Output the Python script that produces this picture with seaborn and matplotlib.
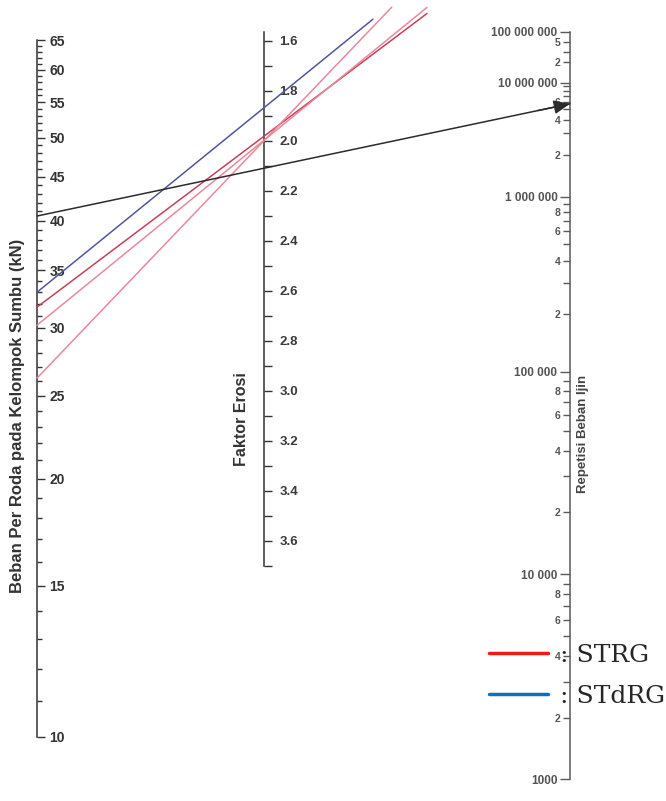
import numpy as np
import pandas as pd
import matplotlib
matplotlib.use('Agg')
import matplotlib.pyplot as plt
from matplotlib.ticker import FixedLocator, FixedFormatter, NullFormatter, FuncFormatter
from matplotlib.lines import Line2D
import seaborn as sns

# - data - #
beban_ticks = [10, 15, 20, 25, 30, 35, 40, 45, 50, 55, 60, 65]
beban_minor = list(range(10, 66))

erosi_ticks = [1.6, 1.8, 2.0, 2.2, 2.4, 2.6, 2.8, 3.0, 3.2, 3.4, 3.6]
erosi_minor = [1.7, 1.9, 2.1, 2.3, 2.5, 2.7, 2.9, 3.1, 3.3, 3.5, 3.7]

rep_major = [1e3, 1e4, 1e5, 1e6, 1e7, 1e8]
rep_major_labels = ['1000', '10 000', '100 000', '1 000 000', '10 000 000', '100 000 000']
rep_minor = [m * 10.0 ** k for k in (3, 4, 5, 6) for m in range(2, 10)] + [2e7, 3e7, 5e7]
rep_minor_labelled = [2e3, 4e3, 6e3, 8e3, 2e4, 4e4, 6e4, 8e4,
                      2e5, 4e5, 6e5, 8e5, 2e6, 4e6, 6e6, 2e7, 5e7]

# nomogram lines: beban (kN) on left axis, faktor erosi on middle axis
garis_nama = ['STdRG', 'STRG a', 'STRG b', 'STRG c', 'contoh']
garis_beban = [33.0, 31.7, 30.2, 26.2, 40.5]
garis_erosi = [1.868, 1.982, 1.998, 2.0, 2.11]
garis_ext = [0.48, 0.718, 0.718, 0.563, None]   # None -> until repetition axis
garis_warna = ['#51569e', '#c9405a', '#e8899b', '#e8899b', '#2b2b2b']

legend_labels = [': STRG', ': STdRG']
legend_colors = ['#f01818', '#0a70c0']

# erosion fatigue relation (PCA), used for the repetition scale
def rep_fwd(n):
    with np.errstate(divide='ignore', invalid='ignore'):
        u = np.log10(np.asarray(n, dtype=float))
        p = 8.5 + np.clip((14.524 - u) / 6.777, 0, None) ** (1 / 0.103)
        return -np.log10(p)

def rep_inv(s):
    with np.errstate(divide='ignore', invalid='ignore', over='ignore'):
        p = 10 ** (-np.asarray(s, dtype=float)) - 8.5
        u = 14.524 - 6.777 * np.clip(p, 0, None) ** 0.103
        return 10 ** u

sns.set_theme(style='white')
plt.rcParams['font.family'] = ['Liberation Sans', 'DejaVu Sans']
plt.rcParams['font.weight'] = 'bold'

W, H = 666, 801
fig = plt.figure(figsize=(W / 100, H / 100), dpi=100)

def scale_axis(x_px, top_px, bottom_px, side):
    ax = fig.add_axes([x_px / W, 1 - bottom_px / H, 1 / W, (bottom_px - top_px) / H])
    for s in ax.spines.values():
        s.set_visible(False)
    ax.spines[side].set_visible(True)
    ax.spines[side].set_linewidth(1.1)
    ax.set_facecolor('none')
    ax.set_xlim(0, 1)
    ax.tick_params(axis='x', bottom=False, labelbottom=False)
    r = side == 'right'
    ax.tick_params(axis='y', which='both', direction='out', left=not r, right=r,
                   labelleft=not r, labelright=r, width=1.0)
    return ax

# left: beban per roda
ax_l = scale_axis(36, 40, 736.5, 'right')
ax_l.set_yscale('log')
ax_l.set_ylim(10, 65)
ax_l.yaxis.set_major_locator(FixedLocator(beban_ticks))
ax_l.yaxis.set_major_formatter(FixedFormatter([str(v) for v in beban_ticks]))
ax_l.yaxis.set_minor_locator(FixedLocator(beban_minor))
ax_l.yaxis.set_minor_formatter(NullFormatter())
ax_l.spines['right'].set_color('#333333')
ax_l.tick_params(axis='y', which='major', length=6, pad=3, labelsize=10, color='#333333', labelcolor='#333333')
ax_l.tick_params(axis='y', which='minor', length=3.5, color='#333333')
ax_l.yaxis.set_label_position('left')
ax_l.set_ylabel('Beban Per Roda pada Kelompok Sumbu (kN)', fontsize=12, fontweight='bold',
                color='#333333', va='center')
ax_l.yaxis.set_label_coords(18 / W, 1 - 415.5 / H, transform=fig.transFigure)

# middle: faktor erosi
ax_m = scale_axis(263, 32, 565.7, 'right')
ax_m.set_ylim(3.7, 1.565)
ax_m.yaxis.set_major_locator(FixedLocator(erosi_ticks))
ax_m.yaxis.set_major_formatter(FuncFormatter(lambda v, p: f'{v:.1f}'))
ax_m.yaxis.set_minor_locator(FixedLocator(erosi_minor))
ax_m.spines['right'].set_color('#333333')
ax_m.tick_params(axis='y', which='both', length=6, pad=5, labelsize=9.5, color='#333333', labelcolor='#3a3a3a')
ax_m.yaxis.set_label_position('left')
ax_m.set_ylabel('Faktor Erosi', fontsize=11.5, fontweight='bold', color='#333333', va='center')
ax_m.yaxis.set_label_coords(241.5 / W, 1 - 419 / H, transform=fig.transFigure)

# right: repetisi beban ijin
ax_r = scale_axis(570, 31.7, 779, 'left')
ax_r.set_yscale('function', functions=(rep_fwd, rep_inv))
ax_r.set_ylim(1e3, 1e8)
ax_r.yaxis.set_major_locator(FixedLocator(rep_major))
ax_r.yaxis.set_major_formatter(FixedFormatter(rep_major_labels))
ax_r.yaxis.set_minor_locator(FixedLocator(rep_minor))
ax_r.yaxis.set_minor_formatter(FuncFormatter(
    lambda v, p: f'{v / 10 ** np.floor(np.log10(v) + 1e-9):.0f}'
    if any(np.isclose(v, m) for m in rep_minor_labelled) else ''))
ax_r.spines['left'].set_color('#5a5a5a')
ax_r.tick_params(axis='y', which='major', length=7, pad=2, labelsize=8.5, color='#5a5a5a', labelcolor='#555555')
ax_r.tick_params(axis='y', which='minor', length=5, pad=2, labelsize=7.5, color='#5a5a5a', labelcolor='#555555')
ax_r.yaxis.set_label_position('right')
ax_r.set_ylabel('Repetisi Beban Ijin', fontsize=9.5, fontweight='bold', color='#444444', va='center')
ax_r.yaxis.set_label_coords(583 / W, 1 - 433.5 / H, transform=fig.transFigure)

# overlay for the nomogram lines (display pixels)
ov = fig.add_axes([0, 0, 1, 1])
ov.set_xlim(0, W)
ov.set_ylim(0, H)
ov.axis('off')
to_ov = ov.transData.inverted()

rows = []
arrow = None
x_r = ax_r.transData.transform((0, 1e3))[0]
for nama, b, e, ext in zip(garis_nama, garis_beban, garis_erosi, garis_ext):
    p0 = to_ov.transform(ax_l.transData.transform((1, b)))
    p1 = to_ov.transform(ax_m.transData.transform((1, e)))
    if ext is None:
        ext = (to_ov.transform((x_r, 0))[0] - p1[0]) / (p1[0] - p0[0])
    p2 = p1 + ext * (p1 - p0)
    if nama == 'contoh':
        arrow = (p0, p2)
    rows.append({'garis': nama, 'x': p0[0], 'y': p0[1]})
    rows.append({'garis': nama, 'x': p2[0], 'y': p2[1]})
df = pd.DataFrame(rows)

sns.lineplot(data=df, x='x', y='y', hue='garis', palette=dict(zip(garis_nama, garis_warna)),
             estimator=None, sort=False, legend=False, linewidth=1.1, ax=ov)

p0, p2 = arrow
ov.annotate('', xy=p2, xytext=p2 - 0.06 * (p2 - p0),
            arrowprops=dict(arrowstyle='-|>,head_length=0.7,head_width=0.3', color='#2b2b2b',
                            lw=1.1, shrinkA=0, shrinkB=0, mutation_scale=14))
ov.set_xlim(0, W)
ov.set_ylim(0, H)
ov.axis('off')

handles = [Line2D([], [], color=c, lw=2.5) for c in legend_colors]
fig.legend(handles, legend_labels, loc='upper left', bbox_to_anchor=(489 / W, 1 - 644 / H),
           frameon=False, prop={'family': 'DejaVu Serif', 'size': 18, 'weight': 'normal'},
           handlelength=2.36, handletextpad=0.5, labelspacing=0.72, borderpad=0, borderaxespad=0)

fig.savefig('out.png', dpi=100, facecolor='white')
